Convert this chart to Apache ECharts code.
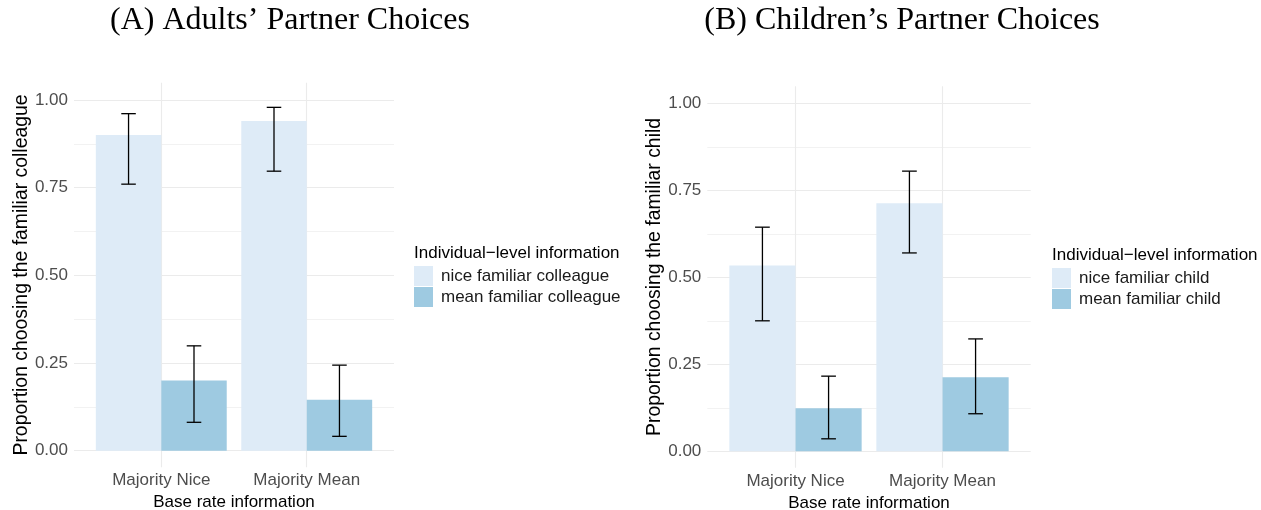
<!DOCTYPE html>
<html>
<head>
<meta charset="utf-8">
<script src="https://cdn.jsdelivr.net/npm/echarts@6/dist/echarts.min.js"></script>
<style>
  html, body { margin: 0; padding: 0; background: #fff; }
  #chart { width: 1261px; height: 510px; }
</style>
</head>
<body>
<div id="chart"></div>
<script>
const categories = ['Majority Nice', 'Majority Mean'];
const yTicks = [0, 0.25, 0.5, 0.75, 1];
const yMinorTicks = [0.125, 0.375, 0.625, 0.875];

// (A) adults
const adultNice = [0.90, 0.94];
const adultNiceLow = [0.760, 0.797];
const adultNiceHigh = [0.961, 0.979];
const adultMean = [0.20, 0.145];
const adultMeanLow = [0.081, 0.041];
const adultMeanHigh = [0.299, 0.244];

// (B) children
const childNice = [0.534, 0.713];
const childNiceLow = [0.375, 0.570];
const childNiceHigh = [0.644, 0.805];
const childMean = [0.124, 0.213];
const childMeanLow = [0.036, 0.108];
const childMeanHigh = [0.216, 0.323];

const niceColor = '#deebf7';
const meanColor = '#9ecae1';
const sans = '"Liberation Sans", Arial, sans-serif';
const serif = '"Liberation Serif", "Times New Roman", serif';

const half = 0.225;   // half of a dodged bar
const cap = 0.05;     // half of the error bar cap

const chart = echarts.init(document.getElementById('chart'));

function barSeries(name, values, offset, color, panel) {
    return {
        type: 'custom',
        name: name,
        xAxisIndex: panel,
        yAxisIndex: panel * 2,
        itemStyle: {color: color},
        data: values.map((v, i) => [i + 1, v]),
        encode: {x: 0, y: 1},
        silent: true,
        renderItem: (params, api) => {
            const c = api.value(0) + offset;
            const p0 = api.coord([c - half, api.value(1)]);
            const p1 = api.coord([c + half, 0]);
            return {
                type: 'rect',
                shape: {x: p0[0], y: p0[1], width: p1[0] - p0[0], height: p1[1] - p0[1]},
                style: {fill: color}
            };
        }
    };
}

function errorSeries(low, high, offset, panel) {
    return {
        type: 'custom',
        name: 'err',
        xAxisIndex: panel,
        yAxisIndex: panel * 2,
        data: low.map((v, i) => [i + 1, v, high[i]]),
        encode: {x: 0, y: [1, 2]},
        silent: true,
        z: 5,
        renderItem: (params, api) => {
            const c = api.value(0) + offset;
            const lo = api.coord([c, api.value(1)]);
            const hi = api.coord([c, api.value(2)]);
            const l = api.coord([c - cap, 0])[0];
            const r = api.coord([c + cap, 0])[0];
            const st = {stroke: '#000', lineWidth: 1.3};
            return {
                type: 'group',
                children: [
                    {type: 'line', shape: {x1: lo[0], y1: lo[1], x2: hi[0], y2: hi[1]}, style: st},
                    {type: 'line', shape: {x1: l, y1: lo[1], x2: r, y2: lo[1]}, style: st},
                    {type: 'line', shape: {x1: l, y1: hi[1], x2: r, y2: hi[1]}, style: st}
                ]
            };
        }
    };
}

function xAxis(panel) {
    return {
        type: 'value',
        gridIndex: panel,
        min: 0.4,
        max: 2.6,
        name: 'Base rate information',
        nameLocation: 'middle',
        nameGap: 24,
        nameTextStyle: {fontFamily: sans, fontSize: 17, color: '#000'},
        axisLine: {show: false},
        axisTick: {show: false, customValues: [1, 2]},
        axisLabel: {
            customValues: [1, 2],
            formatter: v => categories[Math.round(v) - 1],
            margin: 5,
            fontFamily: sans, fontSize: 17, color: '#4d4d4d'
        },
        splitLine: {show: true, lineStyle: {color: '#ebebeb', width: 1.1}}
    };
}

function yAxes(panel, title) {
    return [{
        type: 'value',
        gridIndex: panel,
        min: -0.047,
        max: 1.049,
        name: title,
        nameLocation: 'middle',
        nameGap: 41,
        nameTextStyle: {fontFamily: sans, fontSize: 19.4, color: '#000'},
        axisLine: {show: false},
        axisTick: {show: false, customValues: yTicks},
        axisLabel: {
            customValues: yTicks,
            formatter: v => v.toFixed(2),
            margin: 6,
            fontFamily: sans, fontSize: 17, color: '#4d4d4d'
        },
        splitLine: {show: true, lineStyle: {color: '#ebebeb', width: 1.1}}
    }, {
        type: 'value',
        gridIndex: panel,
        position: 'left',
        min: -0.047,
        max: 1.049,
        axisLine: {show: false},
        axisTick: {show: false, customValues: yMinorTicks},
        axisLabel: {show: false},
        splitLine: {show: true, lineStyle: {color: '#f2f2f2', width: 1}}
    }];
}

function legend(names, left, top) {
    return {
        data: names,
        orient: 'vertical',
        left: left,
        top: top,
        padding: 0,
        icon: 'rect',
        itemWidth: 19,
        itemHeight: 20,
        itemGap: 1,
        selectedMode: false,
        textStyle: {fontFamily: sans, fontSize: 17, color: '#1a1a1a', padding: [0, 0, 0, 3]}
    };
}

const option = {
    animation: false,
    backgroundColor: '#fff',
    graphic: [
        {type: 'text', x: 290, y: 21, style: {text: '(A) Adults’ Partner Choices', font: '32px ' + serif, fill: '#000', textAlign: 'center', textVerticalAlign: 'middle'}},
        {type: 'text', x: 902, y: 21, style: {text: '(B) Children’s Partner Choices', font: '32px ' + serif, fill: '#000', textAlign: 'center', textVerticalAlign: 'middle'}},
        {type: 'text', x: 414, y: 253, style: {text: 'Individual\u2212level information', font: '17px ' + sans, fill: '#000', textVerticalAlign: 'middle'}},
        {type: 'text', x: 1052, y: 255, style: {text: 'Individual\u2212level information', font: '17px ' + sans, fill: '#000', textVerticalAlign: 'middle'}}
    ],
    grid: [
        {left: 74, top: 82.8, width: 320, height: 384.4, outerBoundsMode: 'none'},
        {left: 707.3, top: 86.2, width: 323.4, height: 381.5, outerBoundsMode: 'none'}
    ],
    legend: [
        legend(['nice familiar colleague', 'mean familiar colleague'], 414, 266),
        legend(['nice familiar child', 'mean familiar child'], 1052, 268)
    ],
    xAxis: [xAxis(0), xAxis(1)],
    yAxis: [
        ...yAxes(0, 'Proportion choosing the familiar colleague'),
        ...yAxes(1, 'Proportion choosing the familiar child')
    ],
    series: [
        barSeries('nice familiar colleague', adultNice, -half, niceColor, 0),
        barSeries('mean familiar colleague', adultMean, half, meanColor, 0),
        errorSeries(adultNiceLow, adultNiceHigh, -half, 0),
        errorSeries(adultMeanLow, adultMeanHigh, half, 0),
        barSeries('nice familiar child', childNice, -half, niceColor, 1),
        barSeries('mean familiar child', childMean, half, meanColor, 1),
        errorSeries(childNiceLow, childNiceHigh, -half, 1),
        errorSeries(childMeanLow, childMeanHigh, half, 1)
    ]
};

chart.setOption(option);
</script>
</body>
</html>
